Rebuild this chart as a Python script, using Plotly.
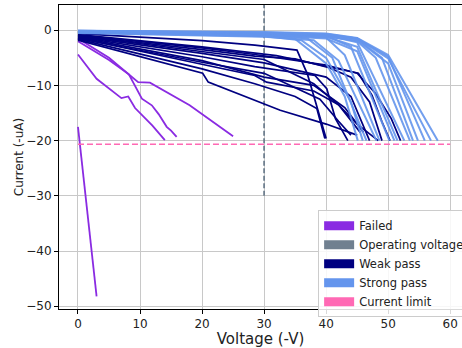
import plotly.graph_objects as go

# ---- data ----
failed_x = [
    [0, 3],
    [0, 3, 7.0, 8.1, 9.2, 12, 14.0],
    [0, 5, 8.4, 9.7, 11.6, 18, 25.0],
    [0, 5, 8.2, 10.3, 11.9, 13, 14.3, 15.0, 15.9],
]
failed_y = [
    [-17.5, -48.2],
    [-4.4, -8.8, -12.3, -12.0, -14.1, -17.3, -19.9],
    [-1.5, -5.0, -8.2, -9.4, -9.5, -13.6, -19.2],
    [-2.0, -5.4, -8.0, -12.4, -13.6, -15.2, -17.5, -18.2, -19.3],
]

weak_x = [
    [0, 10, 20, 28.5, 35.3, 37, 40],
    [0, 20, 28.5, 40, 45, 48, 50.5, 52],
    [0, 20, 28.5, 35, 40.5, 44, 47, 49],
    [0, 20, 28.5, 38.2, 40.1, 41.5, 43.5],
    [0, 20, 30, 38, 43, 46],
    [0, 20, 28.5, 30.4, 38, 42, 45.5],
    [0, 20, 28.5, 35, 38.5, 39.8],
    [0, 20.1, 21, 28.5, 32.6, 40, 45],
    [0, 20, 30, 40, 44, 47],
    [0, 20, 32, 41.5, 45.2, 47.4, 49, 50.3],
    [0, 20, 30, 38, 42, 45, 48.4],
    [0, 20, 30, 39, 42, 44],
]
weak_y = [
    [-0.6, -1.2, -1.9, -2.7, -3.6, -8.0, -19.6],
    [-0.9, -3.2, -4.4, -6.3, -7.8, -11.5, -16.0, -20.0],
    [-1.0, -3.5, -4.7, -5.2, -6.8, -8.5, -13.0, -20.0],
    [-1.2, -4.8, -6.6, -8.2, -10.6, -16.0, -20.0],
    [-1.3, -5.5, -8.5, -10.0, -14.0, -18.5],
    [-1.4, -6.2, -8.2, -9.4, -11.0, -13.5, -18.5],
    [-1.6, -7.0, -9.7, -12.0, -14.2, -19.6],
    [-1.8, -7.8, -9.4, -12.7, -14.5, -17.0, -19.0],
    [-1.1, -4.2, -5.9, -8.5, -12.0, -20.0],
    [-0.8, -3.0, -4.6, -6.9, -7.8, -11.8, -16.6, -20.0],
    [-1.0, -3.8, -5.3, -9.7, -13.5, -17.0, -20.0],
    [-1.5, -5.8, -7.8, -12.5, -16.5, -19.0],
]

strong_x = [
    [0, 30, 35, 40, 43, 45.1],
    [0, 30, 36, 40, 44, 45.9],
    [0, 30, 37, 41, 46.5],
    [0, 30, 38, 42, 48.1],
    [0, 30, 40, 43, 48.6],
    [0, 30, 40, 44, 50.2],
    [0, 30, 40, 45, 51.0],
    [0, 30, 40, 45, 51.5],
    [0, 30, 40, 45, 52.6],
    [0, 30, 40, 45, 48, 53.5],
    [0, 30, 40, 45, 49, 54.0],
    [0, 30, 40, 45, 50, 54.8],
    [0, 30, 40, 45, 50, 55.9],
    [0, 30, 40, 45, 50, 56.9],
    [0, 30, 40, 45, 50, 58.0],
]
strong_y = [
    [-0.3, -1.0, -1.6, -6.0, -12.0, -20.0],
    [-0.4, -1.1, -1.8, -5.0, -13.0, -20.0],
    [-0.2, -0.8, -1.5, -5.0, -20.0],
    [-0.5, -1.2, -1.8, -5.5, -20.0],
    [-0.3, -0.7, -1.3, -4.5, -20.0],
    [-0.2, -0.6, -1.0, -3.0, -20.0],
    [-0.4, -0.9, -1.5, -3.8, -20.0],
    [-0.3, -0.7, -1.2, -3.0, -20.0],
    [-0.1, -0.5, -0.9, -2.2, -20.0],
    [-0.3, -0.6, -1.0, -2.0, -5.0, -20.0],
    [-0.2, -0.5, -0.8, -1.6, -5.0, -20.0],
    [-0.4, -0.8, -1.2, -1.8, -6.0, -20.0],
    [-0.1, -0.4, -0.7, -1.5, -4.8, -20.0],
    [-0.2, -0.5, -0.8, -1.5, -5.1, -20.0],
    [-0.1, -0.3, -0.6, -1.4, -4.5, -20.0],
]

operating_voltage = 30
operating_y = [-30, 4.6]
current_limit = -20.65
current_limit_x = [0, 60]

x_ticks = [0, 10, 20, 30, 40, 50, 60]
y_ticks = [0, -10, -20, -30, -40, -50]

legend_names = ["Failed", "Operating voltage", "Weak pass", "Strong pass", "Current limit"]
C_FAILED = "#8A2BE2"
C_OP = "#708090"
C_WEAK = "#000080"
C_STRONG = "#6495ED"
C_LIMIT = "#FF69B4"
legend_colors = [C_FAILED, C_OP, C_WEAK, C_STRONG, C_LIMIT]

fig = go.Figure()

for xs, ys in zip(failed_x, failed_y):
    fig.add_trace(go.Scatter(x=xs, y=ys, mode="lines", line=dict(color=C_FAILED, width=1.8),
                             showlegend=False, hoverinfo="skip"))

fig.add_trace(go.Scatter(x=[operating_voltage, operating_voltage], y=operating_y, mode="lines",
                         line=dict(color=C_OP, width=1.8, dash="5px,2.5px"),
                         showlegend=False, hoverinfo="skip"))

for xs, ys in zip(weak_x, weak_y):
    fig.add_trace(go.Scatter(x=xs, y=ys, mode="lines", line=dict(color=C_WEAK, width=1.7),
                             showlegend=False, hoverinfo="skip"))

for xs, ys in zip(strong_x, strong_y):
    fig.add_trace(go.Scatter(x=xs, y=ys, mode="lines", line=dict(color=C_STRONG, width=2.0),
                             opacity=0.9, showlegend=False, hoverinfo="skip"))

fig.add_trace(go.Scatter(x=current_limit_x, y=[current_limit, current_limit], mode="lines",
                         line=dict(color=C_LIMIT, width=1.6, dash="6px,3px"),
                         showlegend=False, hoverinfo="skip"))

# legend patches
for name, col in zip(legend_names, legend_colors):
    fig.add_trace(go.Scatter(x=[None], y=[None], mode="lines", name=name,
                             line=dict(color=col, width=9)))

axis_common = dict(
    showgrid=True, gridcolor="#c8c8c8", gridwidth=1,
    showline=True, linecolor="black", linewidth=1, mirror=True,
    ticks="outside", ticklen=4, tickcolor="black",
    zeroline=False, tickfont=dict(size=12, color="#222"), automargin=False,
)

fig.update_layout(
    width=462, height=348, autosize=False,
    margin=dict(l=59, r=0, t=5, b=39, autoexpand=False),
    paper_bgcolor="white", plot_bgcolor="white",
    font=dict(family="DejaVu Sans", color="#222"),
    xaxis=dict(range=[-3.06, 61.9], tickvals=x_ticks,
               title=dict(text="Voltage (-V)", font=dict(size=15), standoff=2),
               **axis_common),
    yaxis=dict(range=[-50.5, 4.57], tickvals=y_ticks,
               title=dict(text="Current (-uA)", font=dict(size=12), standoff=0),
               **axis_common),
    legend=dict(x=0.643, y=0.325, xanchor="left", yanchor="top",
                bgcolor="rgba(255,255,255,0.85)", bordercolor="#cccccc", borderwidth=1,
                font=dict(size=11.5, color="#222"), itemwidth=30, tracegroupgap=0),
)

fig.write_html("out.html", config={"displayModeBar": False},
               post_script="document.body.style.margin='0px';document.body.style.overflow='hidden';")
